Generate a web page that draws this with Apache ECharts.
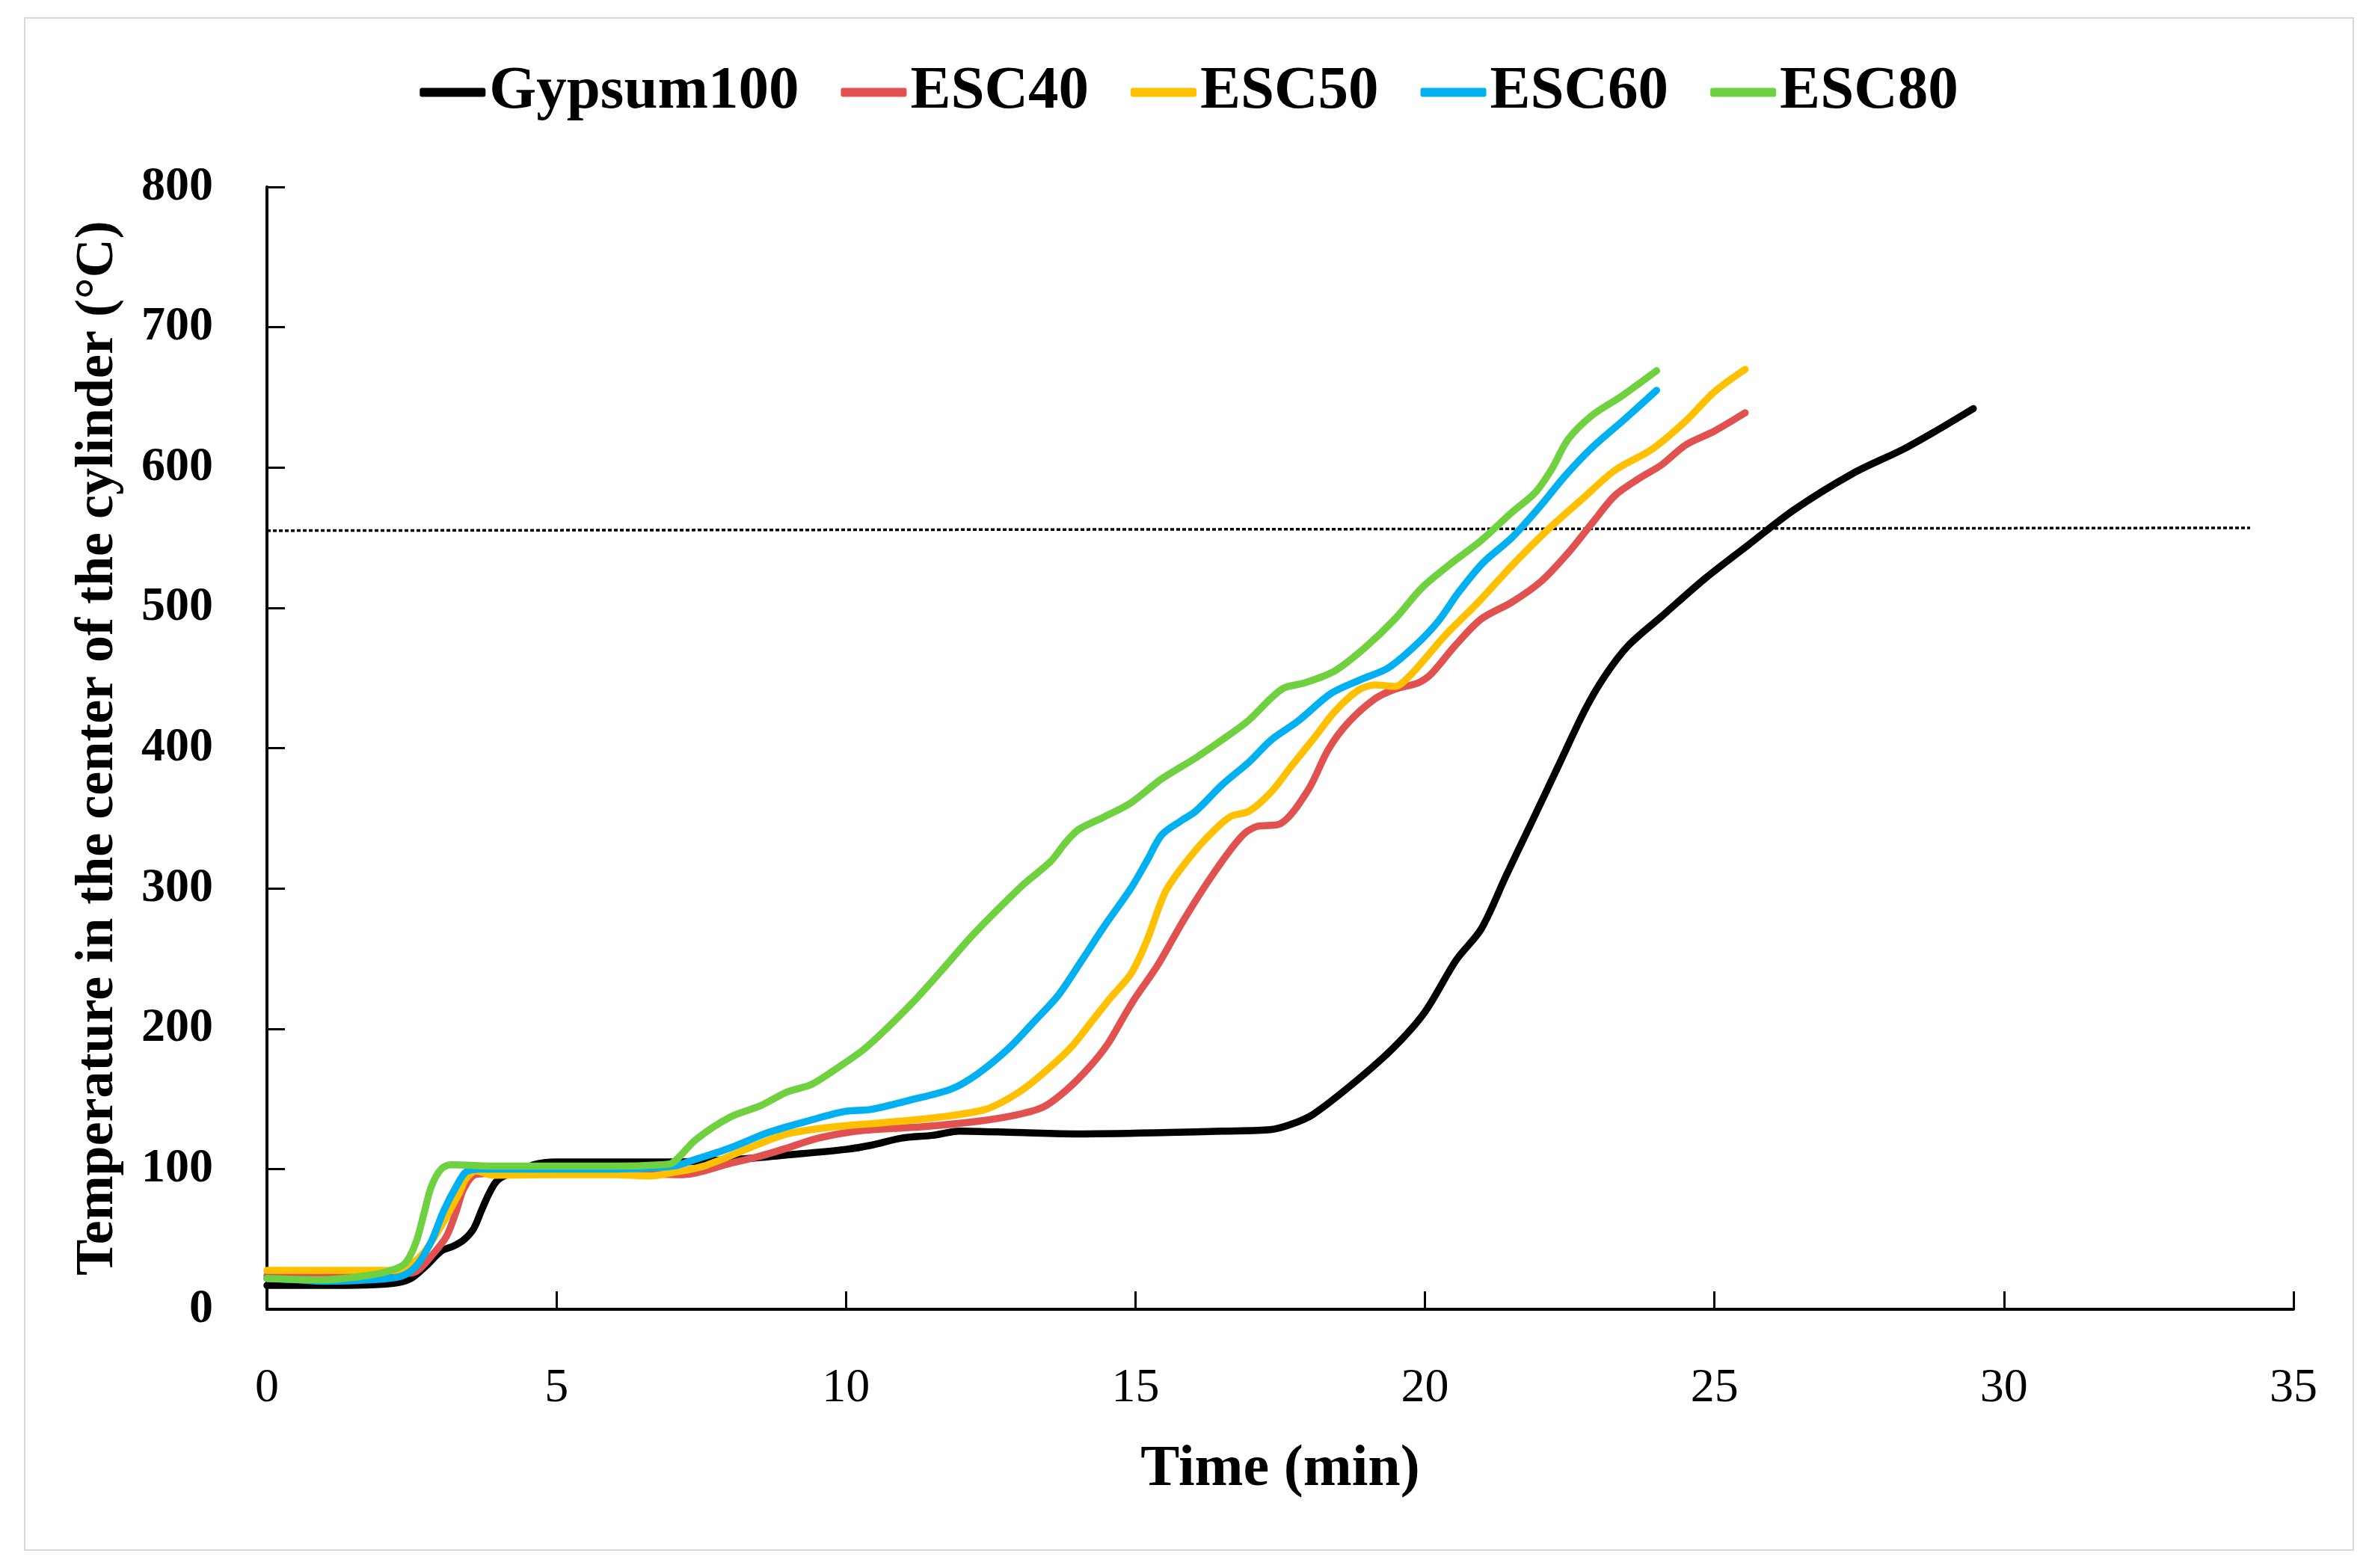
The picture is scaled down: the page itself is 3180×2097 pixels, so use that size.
<!DOCTYPE html>
<html>
<head>
<meta charset="utf-8">
<script src="https://cdn.jsdelivr.net/npm/echarts@6/dist/echarts.min.js"></script>
<style>
html,body{margin:0;padding:0;background:#fff;}
#chart{width:3180px;height:2097px;}
</style>
</head>
<body>
<div id="chart"></div>
<script>
// Series names
const seriesNames = ['Gypsum100', 'ESC40', 'ESC50', 'ESC60', 'ESC80'];
const seriesColors = ['#000000', '#E05150', '#FFC000', '#00B0F0', '#6FD040'];

// [time (min), temperature (°C)]
const gypsum100 = [[0,17],[1,17],[1.8,17.4],[2.23,18.7],[2.49,22],[2.75,31],[3.01,41.5],[3.22,45],[3.4,49.5],[3.57,57.5],[3.7,70],[3.83,82],[3.96,91],[4.13,95.6],[4.39,98],[4.6,103],[5,105],[6,105],[7,105],[8.13,107],[8.99,110],[10,114],[10.44,117],[10.96,122],[11.5,124],[11.96,127],[12.94,126],[14,125],[15.58,126],[16.5,127],[17.33,128],[17.7,132],[18.07,139],[18.82,163],[19.47,187],[20,212],[20.54,249],[20.97,271],[21.4,309],[21.84,347],[22.3,387],[22.76,427],[23.1,451],[23.51,473],[24.09,494],[24.84,521],[25.59,545],[26.38,570],[27.4,596],[28.26,613],[28.78,625],[29.47,642]];
const esc40 = [[0,24],[1,23],[2,24],[2.3,25],[2.58,27],[2.84,38],[3.1,52],[3.27,70],[3.4,86],[3.6,96],[4,97],[5,97],[6,97],[7.2,96],[8.0,104],[8.46,108.5],[8.99,115],[9.52,122],[10.3,127.5],[11.3,130],[12.28,134],[12.94,138.5],[13.4,144],[13.8,156],[14.19,172],[14.52,189],[14.79,208],[14.98,221],[15.38,245],[15.84,278],[16.37,312],[16.83,337],[17.09,344],[17.5,346],[17.98,370],[18.33,399],[18.67,418],[19.13,435],[19.48,442],[19.88,446.5],[20.11,453],[20.52,473],[20.97,492],[21.5,504],[22.01,519],[22.47,539],[22.88,560],[23.28,580],[23.69,592],[24.09,602],[24.5,616],[25.0,626],[25.53,639]];
const esc50 = [[0,27.7],[1,27.7],[2.23,27.7],[2.4,29],[2.7,40],[2.9,52],[3.1,66],[3.31,82],[3.44,93],[3.61,98.6],[3.91,95.6],[5,96],[6,96],[6.6,95],[7.01,97.5],[7.54,102],[8.33,115],[8.99,125],[9.78,130],[10.64,133],[11.62,137],[12.41,142.5],[12.94,153.5],[13.34,166],[13.87,186],[14.26,206],[14.59,223],[14.92,239],[15.19,262],[15.51,297],[15.84,317],[16.23,336],[16.63,351],[16.96,355],[17.35,369],[17.69,387],[18.1,408],[18.44,426],[18.84,441],[19.13,445],[19.48,444],[19.77,453],[20.34,480],[20.92,504],[21.5,530],[22.13,556],[22.7,577],[23.28,598],[23.92,613],[24.5,633],[25.0,654],[25.53,670]];
const esc60 = [[0,22],[0.5,21],[1,20],[1.8,21],[2.32,23.6],[2.58,31],[2.84,48.5],[3.05,70],[3.27,87.6],[3.44,98],[3.7,100],[5,100],[6,100],[7.01,102],[7.41,107],[8.0,115],[8.66,126],[9.32,134],[9.98,141],[10.44,142.5],[11.1,149],[11.82,157],[12.28,168],[12.81,186],[13.27,206],[13.67,224],[14.07,248.5],[14.46,273],[14.92,300],[15.19,319],[15.45,338],[15.78,348],[16.04,355],[16.5,374],[16.96,390],[17.35,406],[17.8,419],[18.38,439],[18.9,449],[19.36,457],[19.83,473],[20.23,490.5],[20.58,511],[21.0,532],[21.5,550],[21.96,571],[22.42,594],[22.88,614],[23.45,634.5],[24.0,655]];
const esc80 = [[0,22],[0.94,21],[1.8,24.5],[2.23,29],[2.41,34],[2.58,48.5],[2.71,68],[2.84,87.6],[3.01,100],[3.18,103],[4,102],[5,102],[6,102],[6.8,103],[7.01,104.5],[7.41,121],[8.0,137],[8.52,145],[8.99,155],[9.39,160],[9.78,170],[10.3,185],[10.7,200],[11.16,219],[11.62,240],[12.15,265],[12.55,282],[13.07,303],[13.53,319],[13.8,333],[14.02,342],[14.46,351],[14.92,361],[15.45,378],[16.04,393],[16.57,408],[16.96,420],[17.35,436],[17.57,443],[17.92,446.5],[18.44,455],[18.96,471.5],[19.48,492],[19.94,514],[20.4,530],[20.97,548],[21.5,568],[21.9,582],[22.19,599],[22.47,620],[22.88,637],[23.4,651],[24.0,669]];

// Dotted reference line
const refLine = [[0,555],[34.25,557]];

// Axis ranges / labels
const xAxisName = 'Time (min)';
const yAxisName = 'Temperature in the center of the cylinder (°C)';
const xRange = [0, 35, 5];
const yRange = [0, 800, 100];

const allData = [gypsum100, esc40, esc50, esc60, esc80];
const FONT = 'Liberation Serif';

const chart = echarts.init(document.getElementById('chart'), null, {renderer: 'canvas'});

const series = allData.map((d, i) => ({
  name: seriesNames[i],
  type: 'line',
  data: d,
  smooth: 0.3,
  showSymbol: false,
  symbol: 'none',
  color: seriesColors[i],
  lineStyle: {color: seriesColors[i], width: 9.5, cap: 'round', join: 'round'},
  z: 3 + i
}));
series.push({
  name: 'ref',
  type: 'line',
  data: refLine,
  showSymbol: false,
  symbol: 'none',
  silent: true,
  lineStyle: {color: '#000', width: 3.5, type: [5, 3]},
  z: 2
});

chart.setOption({
  backgroundColor: '#ffffff',
  animation: false,
  graphic: [{
    type: 'rect',
    shape: {x: 33, y: 24, width: 3114, height: 2049},
    style: {fill: 'none', stroke: '#d9d9d9', lineWidth: 2},
    silent: true, z: -1
  }],
  legend: {
    data: seriesNames,
    top: 78,
    left: 'center',
    icon: 'roundRect',
    itemWidth: 88,
    itemHeight: 12,
    itemGap: 56,
    textStyle: {fontFamily: FONT, fontWeight: 'bold', fontSize: 81, color: '#000'}
  },
  grid: {left: 357, top: 250, width: 2710, height: 1501, containLabel: false},
  xAxis: {
    type: 'value',
    min: xRange[0], max: xRange[1], interval: xRange[2],
    name: xAxisName,
    nameLocation: 'middle',
    nameGap: 176,
    nameTextStyle: {fontFamily: FONT, fontWeight: 'bold', fontSize: 78, color: '#000'},
    axisLine: {show: true, onZero: false, lineStyle: {color: '#000', width: 4}},
    axisTick: {show: true, inside: true, length: 24, lineStyle: {color: '#000', width: 3}},
    axisLabel: {margin: 74, fontFamily: FONT, fontSize: 64, color: '#000'},
    splitLine: {show: false}
  },
  yAxis: {
    type: 'value',
    min: yRange[0], max: yRange[1], interval: yRange[2],
    name: yAxisName,
    nameLocation: 'middle',
    nameGap: 190,
    nameRotate: 90,
    nameTextStyle: {fontFamily: FONT, fontWeight: 'bold', fontSize: 72, color: '#000'},
    axisLine: {show: true, lineStyle: {color: '#000', width: 4}},
    axisTick: {show: true, inside: true, length: 24, lineStyle: {color: '#000', width: 3}},
    axisLabel: {margin: 72, fontFamily: FONT, fontWeight: 'bold', fontSize: 64, color: '#000'},
    splitLine: {show: false}
  },
  series: series
});
</script>
</body>
</html>
